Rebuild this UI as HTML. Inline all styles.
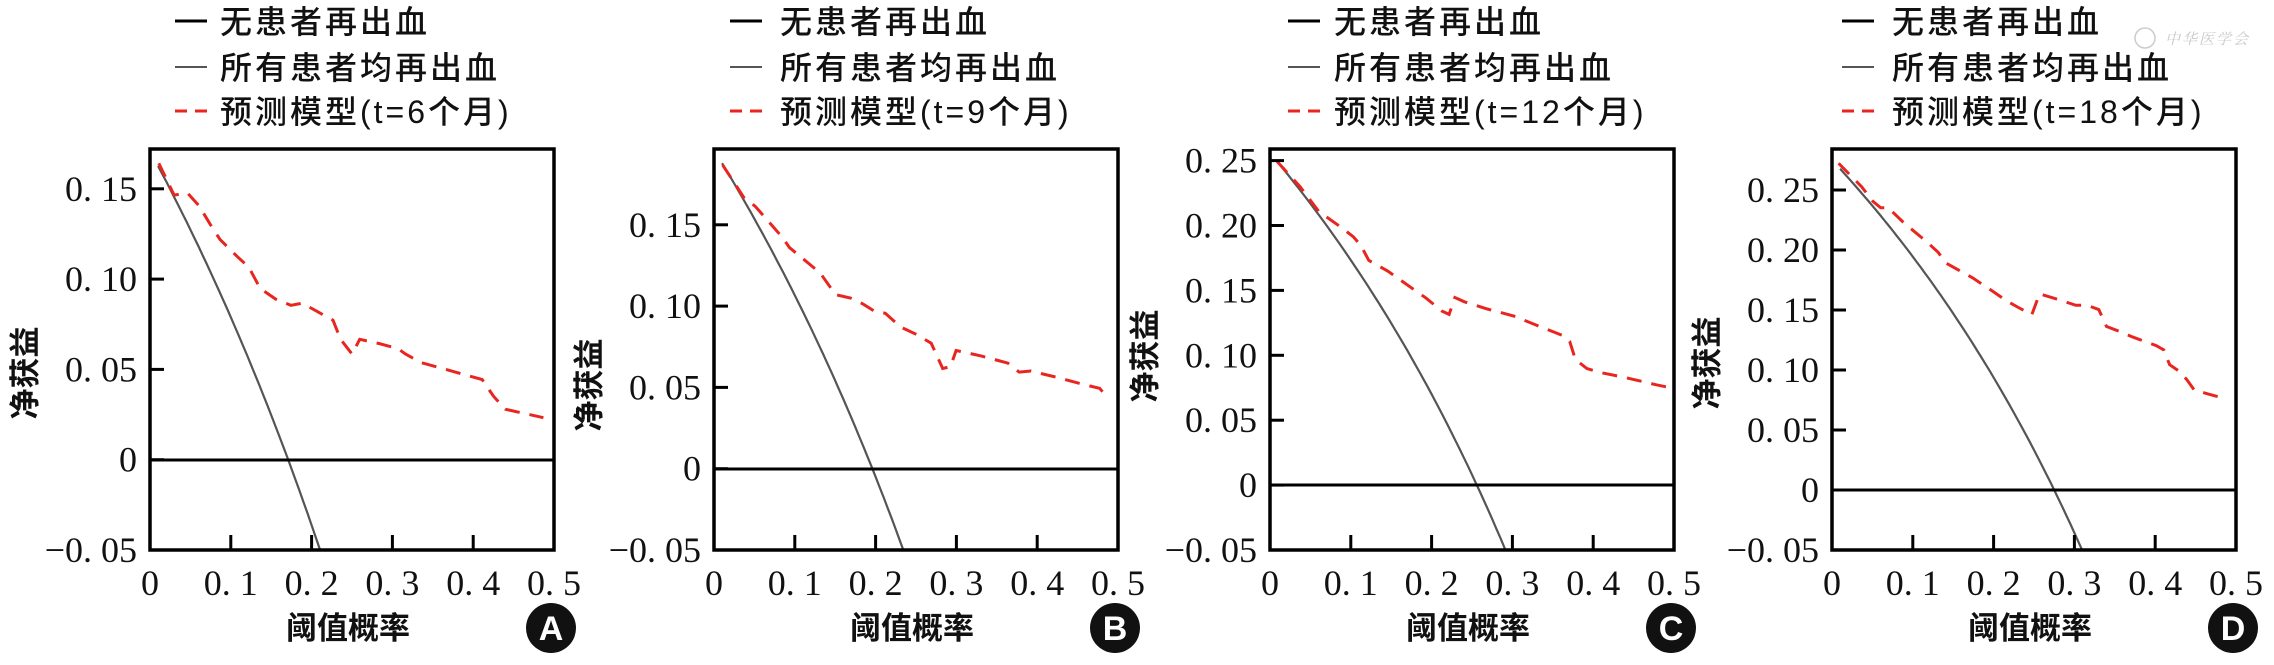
<!DOCTYPE html>
<html><head><meta charset="utf-8">
<style>
html,body{margin:0;padding:0;background:#fff;}
svg{display:block;}
.t{font-family:"Liberation Serif","Noto Serif CJK SC",serif;font-size:36px;fill:#111;}
.c{font-family:"Liberation Sans","Noto Sans CJK SC",sans-serif;font-size:31px;fill:#111;font-weight:bold;}
.lg{font-family:"Liberation Sans","Noto Sans CJK SC",sans-serif;font-size:32px;fill:#111;letter-spacing:3px;font-weight:500;}
</style></head>
<body>
<svg id="s" width="2274" height="665" viewBox="0 0 2274 665" xmlns="http://www.w3.org/2000/svg">
<defs>
<clipPath id="cA"><rect x="150" y="149" width="404" height="401"/></clipPath>
<clipPath id="cB"><rect x="714" y="149" width="404" height="401"/></clipPath>
<clipPath id="cC"><rect x="1270" y="149" width="404" height="401"/></clipPath>
<clipPath id="cD"><rect x="1832" y="149" width="404" height="401"/></clipPath>
</defs>

<polyline clip-path="url(#cA)" fill="none" stroke="#e8261f" stroke-width="3" stroke-dasharray="15,10" points="158.8,163.3 174.1,195.1 187.5,193.0 199.0,205.7 210.5,224.8 220.1,239.6 237.3,256.6 248.8,267.2 260.2,288.4 275.5,299.0 290.9,305.3 302.3,303.2 317.6,311.7 333.0,320.2 340.6,339.3 352.1,354.1 359.7,339.3 378.9,343.5 398.0,348.6 405.6,354.1 421.0,362.6 443.9,368.9 459.2,373.2 482.2,379.6 493.7,396.5 505.2,409.2 543.4,417.7"/>
<line x1="150" y1="460" x2="554" y2="460" stroke="#000" stroke-width="3"/>
<polyline clip-path="url(#cB)" fill="none" stroke="#e8261f" stroke-width="3" stroke-dasharray="15,10" points="722.6,164.9 743.7,197.3 755.2,206.3 782.0,236.9 789.6,247.7 820.2,273.0 835.5,294.6 850.9,298.2 862.3,303.6 873.8,310.8 885.3,313.3 900.6,327.0 915.9,334.2 931.2,343.2 937.0,355.9 942.7,368.5 950.4,366.7 956.1,350.5 981.0,355.9 1007.8,363.1 1019.2,372.1 1030.7,371.0 1057.5,377.5 1084.3,384.7 1099.6,388.3 1107.3,397.3"/>
<line x1="714" y1="469" x2="1118" y2="469" stroke="#000" stroke-width="3"/>
<polyline clip-path="url(#cC)" fill="none" stroke="#e8261f" stroke-width="3" stroke-dasharray="15,10" points="1276.9,161.3 1299.9,186.5 1319.0,211.7 1342.0,227.9 1353.5,236.9 1361.1,245.9 1368.8,260.4 1387.9,271.2 1403.2,282.0 1426.2,298.2 1441.5,310.8 1449.1,314.4 1454.9,297.5 1464.4,301.8 1487.4,309.0 1514.2,316.2 1541.0,327.0 1563.9,336.0 1569.7,341.4 1575.4,359.5 1586.9,368.5 1598.4,372.1 1625.2,377.5 1655.8,384.7 1673.0,388.3"/>
<line x1="1270" y1="485" x2="1674" y2="485" stroke="#000" stroke-width="3"/>
<polyline clip-path="url(#cD)" fill="none" stroke="#e8261f" stroke-width="3" stroke-dasharray="15,10" points="1838.6,163.3 1861.5,186.6 1873.0,201.4 1880.7,207.8 1888.3,207.8 1903.6,222.6 1926.6,241.7 1938.1,252.3 1945.7,262.9 1957.2,269.3 1972.5,277.8 1991.6,290.5 2006.9,301.1 2018.4,307.5 2031.8,314.7 2039.5,293.9 2056.7,299.0 2075.8,305.3 2087.3,305.3 2098.8,309.6 2106.5,326.5 2117.9,330.8 2133.2,337.2 2156.2,345.6 2163.8,349.9 2169.6,364.7 2179.1,371.1 2186.8,379.6 2194.4,390.2 2209.7,394.4 2225.1,398.6"/>
<line x1="1832" y1="490" x2="2236" y2="490" stroke="#000" stroke-width="3"/>

<circle cx="2145" cy="38" r="10" fill="none" stroke="#ccc" stroke-width="1.5"/>
<text x="2165" y="44" style="font-family:'Noto Serif CJK SC',serif;font-size:15px;fill:#c8c8c8;font-style:italic;letter-spacing:2px">中华医学会</text>
</svg>
<script>
var NS="http://www.w3.org/2000/svg";
var s=document.getElementById('s');
var P=[
 {L:150,k:1806,p:0.171,ticks:[0.15,0.10,0.05,0,-0.05],t:"6",lx:25,tx:70,yc:373,letter:"A"},
 {L:714,k:1626,p:0.196,ticks:[0.15,0.10,0.05,0,-0.05],t:"9",lx:16,tx:66,yc:385,letter:"B"},
 {L:1270,k:1298,p:0.256,ticks:[0.25,0.20,0.15,0.10,0.05,0,-0.05],t:"12",lx:18,tx:64,yc:356,letter:"C"},
 {L:1832,k:1200,p:0.275,ticks:[0.25,0.20,0.15,0.10,0.05,0,-0.05],t:"18",lx:10,tx:60,yc:363,letter:"D"}
];
function el(n,a,txt){var e=document.createElementNS(NS,n);for(var k in a)e.setAttribute(k,a[k]);if(txt!=null)e.textContent=txt;s.appendChild(e);return e;}
P.forEach(function(q){
 var L=q.L, Y=function(v){return 550-(v+0.05)*q.k;}, X=function(t){return L+t*808;};
 var pts=[];for(var t=0.01;t<=0.5;t+=0.005){var v=q.p-(1-q.p)*t/(1-t);pts.push(X(t).toFixed(1)+","+Y(v).toFixed(1));if(v<-0.06)break;}
 var g=el('polyline',{points:pts.join(' '),fill:'none',stroke:'#555','stroke-width':2.2,'clip-path':'url(#c'+q.letter+')'});
 s.insertBefore(g,s.querySelector('polyline'));
 el('rect',{x:L,y:149,width:404,height:401,fill:'none',stroke:'#000','stroke-width':3.5});
 q.ticks.forEach(function(v){var y=Y(v);
  if(v>-0.049) el('line',{x1:L,y1:y,x2:L+14,y2:y,stroke:'#000','stroke-width':3});
  var lab=v===0?"0":(v<0?"\u22120. 05":"0. "+(Math.round(v*100)<10?"0":"")+Math.round(v*100));
  el('text',{x:L-13,y:y+12,'text-anchor':'end','class':'t'},lab);
 });
 for(var i=0;i<=5;i++){var x=X(i/10);
  if(i>0&&i<5) el('line',{x1:x,y1:550,x2:x,y2:535,stroke:'#000','stroke-width':3});
  el('text',{x:x,y:595,'text-anchor':'middle','class':'t'},i==0?"0":"0. "+i);
 }
 el('text',{x:L+198,y:639,'text-anchor':'middle','class':'c'},"阈值概率");
 el('text',{x:0,y:0,'text-anchor':'middle','class':'c',transform:'translate('+(L-114)+','+q.yc+') rotate(-90)'},"净获益");
 el('circle',{cx:L+401,cy:628,r:25,fill:'#111'});
 el('text',{x:L+401,y:640,'text-anchor':'middle',style:'font-family:"Liberation Sans",sans-serif;font-size:34px;font-weight:bold;fill:#fff'},q.letter);
 var lx=L+q.lx, tx=L+q.tx;
 el('line',{x1:lx,y1:21,x2:lx+32,y2:21,stroke:'#000','stroke-width':3});
 el('line',{x1:lx,y1:67,x2:lx+32,y2:67,stroke:'#555','stroke-width':2});
 el('line',{x1:lx,y1:111,x2:lx+32,y2:111,stroke:'#e8261f','stroke-width':3,'stroke-dasharray':'12,8'});
 el('text',{x:tx,y:33,'class':'lg'},"无患者再出血");
 el('text',{x:tx,y:79,'class':'lg'},"所有患者均再出血");
 el('text',{x:tx,y:123,'class':'lg'},"预测模型(t="+q.t+"个月)");
});
</script>
</body></html>
